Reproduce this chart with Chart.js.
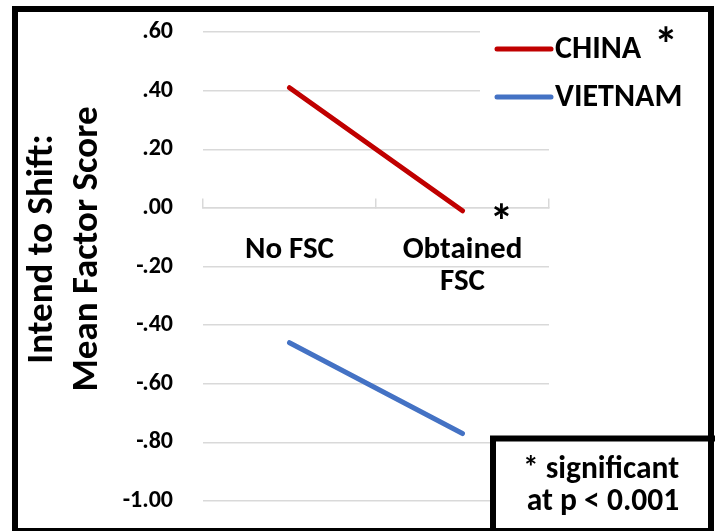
<!DOCTYPE html>
<html>
<head>
<meta charset="utf-8">
<script src="https://cdn.jsdelivr.net/npm/chart.js@4/dist/chart.umd.min.js"></script>
<style>
html,body{margin:0;padding:0;background:#fff;}
#wrap{position:relative;width:715px;height:531px;}
</style>
</head>
<body>
<div id="wrap"><canvas id="c" width="715" height="531"></canvas></div>
<script>
// ---- data ----
const categories = ['No FSC', ['Obtained', 'FSC']];
const seriesNames = ['CHINA', 'VIETNAM'];
const chinaValues = [0.41, -0.01];
const vietnamValues = [-0.46, -0.77];
const yTickLabels = ['-1.00', '-.80', '-.60', '-.40', '-.20', '.00', '.20', '.40', '.60'];
const yTitleLines = ['Intend to Shift:', 'Mean Factor Score'];
const noteLines = ['* significant', 'at p < 0.001'];
const significantSeries = ['CHINA'];

const FONT = 'Carlito, Lato, sans-serif';
const RED = '#C00000';
const BLUE = '#4472C4';
const GRID = '#D9D9D9';

const overlay = {
  id: 'overlay',
  beforeDraw(chart) {
    const ctx = chart.ctx;
    ctx.save();
    ctx.fillStyle = '#fff';
    ctx.fillRect(0, 0, chart.width, chart.height);
    ctx.restore();
  },
  afterDraw(chart) {
    const ctx = chart.ctx;
    ctx.save();
    // y title
    ctx.fillStyle = '#000';
    ctx.font = 'bold 37px ' + FONT;
    ctx.textAlign = 'center';
    ctx.textBaseline = 'middle';
    const tx = [43, 88];
    yTitleLines.forEach((t, i) => {
      ctx.save();
      ctx.translate(tx[i], 249);
      ctx.rotate(-Math.PI / 2);
      ctx.fillText(t, 0, 0);
      ctx.restore();
    });

    // legend (white box over plot)
    ctx.fillStyle = '#fff';
    ctx.fillRect(480, 16, 230, 104);
    chart.data.datasets.forEach((ds, i) => {
      const y = 49 + i * 48;
      ctx.strokeStyle = ds.borderColor;
      ctx.lineWidth = 5;
      ctx.lineCap = 'round';
      ctx.beginPath();
      ctx.moveTo(497, y);
      ctx.lineTo(551, y);
      ctx.stroke();
      ctx.fillStyle = '#000';
      ctx.font = 'bold 32px ' + FONT;
      ctx.textAlign = 'left';
      ctx.textBaseline = 'middle';
      ctx.fillText(ds.label, 555, y + 1);
      if (significantSeries.includes(ds.label)) {
        ctx.font = 'bold 48px ' + FONT;
        ctx.textAlign = 'center';
        ctx.fillText('*', 666, y);
      }
    });

    // asterisk next to significant line end
    chart.data.datasets.forEach((ds, i) => {
      if (!significantSeries.includes(ds.label)) return;
      const meta = chart.getDatasetMeta(i);
      const pt = meta.data[meta.data.length - 1];
      ctx.fillStyle = '#000';
      ctx.font = 'bold 48px ' + FONT;
      ctx.textAlign = 'center';
      ctx.textBaseline = 'middle';
      ctx.fillText('*', pt.x + 39, pt.y + 15);
    });

    // note box
    ctx.fillStyle = '#fff';
    ctx.fillRect(493, 438.5, 240, 100);
    ctx.strokeStyle = '#000';
    ctx.lineWidth = 6;
    ctx.lineCap = 'butt';
    ctx.strokeRect(493, 438.5, 300, 200);
    ctx.fillStyle = '#000';
    ctx.font = 'bold 31.5px ' + FONT;
    ctx.textAlign = 'center';
    ctx.textBaseline = 'middle';
    ctx.fillText(noteLines[0], 601, 470);
    ctx.fillText(noteLines[1], 603, 502);

    // outer frame
    ctx.strokeStyle = '#000';
    ctx.lineWidth = 6;
    ctx.strokeRect(15, 9, 696, 522);
    ctx.restore();
  }
};

new Chart(document.getElementById('c'), {
  type: 'line',
  data: {
    labels: categories,
    datasets: [
      { label: seriesNames[0], data: chinaValues, borderColor: RED, backgroundColor: RED,
        borderWidth: 5, pointRadius: 0, borderCapStyle: 'round', tension: 0 },
      { label: seriesNames[1], data: vietnamValues, borderColor: BLUE, backgroundColor: BLUE,
        borderWidth: 5, pointRadius: 0, borderCapStyle: 'round', tension: 0 }
    ]
  },
  options: {
    responsive: false,
    animation: false,
    devicePixelRatio: 1,
    layout: { padding: { left: 0, top: 32, right: 166, bottom: 30 } },
    plugins: { legend: { display: false }, tooltip: { enabled: false } },
    scales: {
      y: {
        min: -1, max: 0.6,
        ticks: {
          stepSize: 0.2, padding: 30, color: '#000',
          font: { family: FONT, size: 24, weight: 'bold' },
          callback: (v, i) => yTickLabels[i]
        },
        grid: { color: GRID, lineWidth: 1.5, drawTicks: false },
        border: { display: false },
        afterFit: s => { s.width = 203; s.paddingTop = 0; s.paddingBottom = 0; }
      },
      x: {
        position: { y: 0 },
        offset: true,
        grid: { offset: true, drawOnChartArea: false, drawTicks: true, tickLength: -10, color: GRID, lineWidth: 1.5 },
        border: { display: true, color: GRID, width: 1.5 },
        ticks: {
          padding: 36, color: '#000', maxRotation: 0, autoSkip: false,
          font: { family: FONT, size: 31, weight: 'bold', lineHeight: 1.03 }
        },
        afterFit: s => { s.height = 0; }
      }
    }
  },
  plugins: [overlay]
});
</script>
</body>
</html>
